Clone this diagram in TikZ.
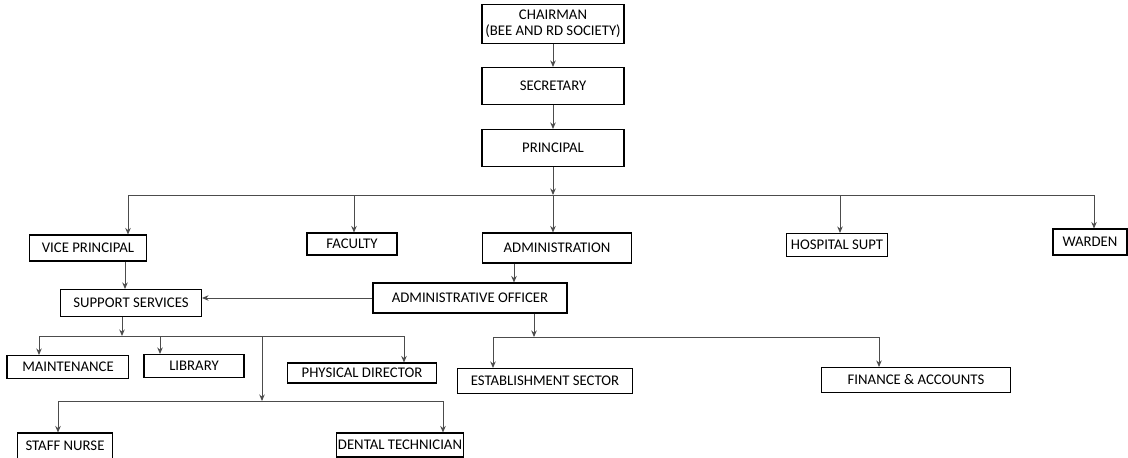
\documentclass[tikz,border=0pt]{standalone}
\usepackage{fontspec}
\setmainfont{Carlito}
\usetikzlibrary{arrows.meta}
\tikzset{
>={Stealth[length=1.3mm,width=1.1mm]},
org node/.style 2 args={draw,line width=0.6pt,minimum width=#1*0.02cm,minimum height=#2*0.02cm,inner sep=1pt,align=center},
link/.style={->,draw=black!70,line width=0.5pt},
bus/.style={draw=black!70,line width=0.5pt}}

\begin{document}
\begin{tikzpicture}[x=0.02cm,y=-0.02cm,font=\fontsize{8.4}{9}\selectfont]
\useasboundingbox (0,0) rectangle (1128,457);

\node[org node={142}{39}] (chair) at (553,24) {CHAIRMAN\\(BEE AND RD SOCIETY)};
\node[org node={142}{37}] (sec) at (553,86) {SECRETARY};
\node[org node={142}{37}] (princ) at (553,148) {PRINCIPAL};

\node[org node={117}{26}] (vp) at (88,248) {VICE PRINCIPAL};
\node[org node={90}{22}] (fac) at (352,244) {FACULTY};
\node[org node={149}{30}] (adm) at (557,248) {ADMINISTRATION};
\node[org node={101}{23}] (hos) at (837,245) {HOSPITAL SUPT};
\node[org node={74}{26}] (war) at (1090,242) {WARDEN};

\node[org node={141}{27}] (ss) at (131,303) {SUPPORT SERVICES};
\node[org node={194}{30}] (ao) at (470,298) {ADMINISTRATIVE OFFICER};

\node[org node={121}{23}] (mnt) at (68,367) {MAINTENANCE};
\node[org node={100}{23}] (lib) at (194,366) {LIBRARY};
\node[org node={149}{20}] (phy) at (362,373) {PHYSICAL DIRECTOR};
\node[org node={175}{25}] (est) at (545,381) {ESTABLISHMENT SECTOR};
\node[org node={189}{25}] (fin) at (916,380) {FINANCE \& ACCOUNTS};

\node[org node={95}{26}] (sn) at (65,446) {STAFF NURSE};
\node[org node={121}{24}] (den) at (400,445) {DENTAL TECHNICIAN};

\draw[line width=1.4pt] (mnt.north west) -- (mnt.south west);

\coordinate (j0) at (553,195);
\coordinate (j0a) at (128,195);
\coordinate (j0b) at (354,195);
\coordinate (j0c) at (840,195);
\coordinate (j0d) at (1094,195);
\coordinate (j1) at (125,290);
\coordinate (j2) at (514,283);
\coordinate (j3) at (122,336);
\coordinate (j3a) at (39,336);
\coordinate (j3b) at (160,336);
\coordinate (j3c) at (262,336);
\coordinate (j3d) at (404,336);
\coordinate (j4) at (262,401);
\coordinate (j4a) at (58,401);
\coordinate (j4b) at (443,401);
\coordinate (j5) at (534,337);
\coordinate (j5a) at (493,337);
\coordinate (j5b) at (879,337);

\draw[link] (chair) -- (sec);
\draw[link] (sec) -- (princ);
\draw[link] (princ) -- (j0);
\draw[bus] (j0a) -- (j0d);
\draw[link] (j0a) -- (j0a |- vp.north);
\draw[link] (j0b) -- (j0b |- fac.north);
\draw[link] (j0) -- (j0 |- adm.north);
\draw[link] (j0c) -- (j0c |- hos.north);
\draw[link] (j0d) -- (j0d |- war.north);

\draw[link] (vp.south -| j1) -- (ss.north -| j1);
\draw[link] (adm.south -| j2) -- (ao.north -| j2);
\draw[link] (ao.west) -- (ss.east |- ao.west);

\draw[link] (ss.south -| j3) -- (j3);
\draw[bus] (j3a) -- (j3d);
\draw[link] (j3a) -- (j3a |- mnt.north);
\draw[link] (j3b) -- (j3b |- lib.north);
\draw[link] (j3d) -- (j3d |- phy.north);
\draw[link] (j3c) -- (j4);
\draw[bus] (j4a) -- (j4b);
\draw[link] (j4a) -- (j4a |- sn.north);
\draw[link] (j4b) -- (j4b |- den.north);

\draw[link] (ao.south -| j5) -- (j5);
\draw[bus] (j5a) -- (j5b);
\draw[link] (j5a) -- (j5a |- est.north);
\draw[link] (j5b) -- (j5b |- fin.north);

\end{tikzpicture}
\end{document}
